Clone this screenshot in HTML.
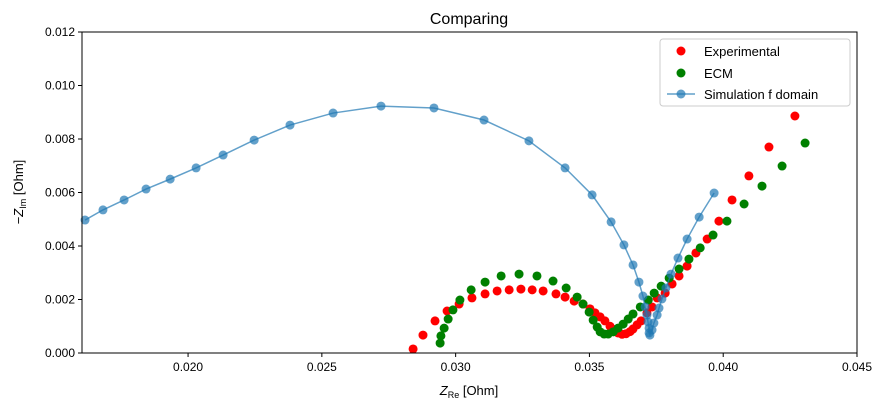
<!DOCTYPE html>
<html><head><meta charset="utf-8"><style>
body{margin:0;background:#fff}
svg{display:block;font-family:"Liberation Sans","DejaVu Sans",sans-serif}
</style></head><body>
<svg id="chart" width="886" height="409" viewBox="0 0 886 409">
<rect width="886" height="409" fill="#fff"/>
<text x="469" y="24" text-anchor="middle" font-size="16">Comparing</text>
<g id="grid"></g>
<g id="marks"></g>
<rect x="82" y="32" width="775" height="321" fill="none" stroke="#000" stroke-width="1"/>
<g id="xticks"></g><g id="yticks"></g>
<text x="469" y="395" text-anchor="middle" font-size="13"><tspan font-style="italic">Z</tspan><tspan font-size="9" dy="3">Re</tspan><tspan dy="-3"> [Ohm]</tspan></text>
<text transform="translate(23,192) rotate(-90)" text-anchor="middle" font-size="13">−<tspan font-style="italic">Z</tspan><tspan font-size="9" dy="3">Im</tspan><tspan dy="-3"> [Ohm]</tspan></text>
<g>
<rect x="660" y="39" width="190" height="67" rx="3" fill="#fff" fill-opacity="0.8" stroke="#ccc"/>
<circle cx="681" cy="51" r="4.5" fill="#ff0000"/>
<text x="704" y="56" font-size="13">Experimental</text>
<circle cx="681" cy="73" r="4.5" fill="#008000"/>
<text x="704" y="78" font-size="13">ECM</text>
<line x1="667" y1="94" x2="695" y2="94" stroke="#1f77b4" stroke-opacity="0.7" stroke-width="1.5"/>
<circle cx="681" cy="94" r="4.5" fill="#1f77b4" fill-opacity="0.7"/>
<text x="704" y="99" font-size="13">Simulation f domain</text>
</g>
</svg>
<script>
const xTickValues=[0.020,0.025,0.030,0.035,0.040,0.045];
const xTickLabels=["0.020","0.025","0.030","0.035","0.040","0.045"];
const yTickValues=[0,0.002,0.004,0.006,0.008,0.010,0.012];
const yTickLabels=["0.000","0.002","0.004","0.006","0.008","0.010","0.012"];
const expRe=[0.02841,0.02878,0.02923,0.02968,0.03013,0.03061,0.0311,0.03155,0.032,0.03244,0.03286,0.03327,0.03375,0.03409,0.03443,0.03476,0.03502,0.03521,0.0354,0.03558,0.03577,0.03592,0.03607,0.03622,0.03637,0.03652,0.03663,0.03678,0.03693,0.03715,0.03734,0.03753,0.03783,0.03809,0.03835,0.03865,0.03898,0.0394,0.03984,0.04033,0.04096,0.04171,0.04268];
const expIm=[0.00015,0.00067,0.0012,0.00157,0.00183,0.00206,0.00221,0.00232,0.00236,0.00239,0.00236,0.00232,0.00221,0.00209,0.00194,0.00183,0.00165,0.0015,0.00135,0.0012,0.001,0.00088,0.00075,0.0007,0.00072,0.0008,0.0009,0.00105,0.0012,0.0015,0.00172,0.00206,0.00224,0.00258,0.00288,0.00325,0.00374,0.00426,0.00493,0.00572,0.00662,0.0077,0.00886];
const ecmRe=[0.02942,0.02945,0.02957,0.02972,0.0299,0.03016,0.03058,0.0311,0.0317,0.03237,0.03304,0.03364,0.03413,0.03454,0.03476,0.03499,0.03514,0.03529,0.0354,0.03555,0.0357,0.03589,0.03607,0.03626,0.03645,0.03663,0.0369,0.0372,0.03742,0.03768,0.03798,0.03835,0.03872,0.03914,0.03962,0.04014,0.04078,0.04145,0.0422,0.04306];
const ecmIm=[0.00037,0.00064,0.00093,0.00127,0.00161,0.00198,0.00236,0.00265,0.00288,0.00295,0.00288,0.00269,0.00243,0.00209,0.00183,0.00153,0.00123,0.00097,0.00079,0.00071,0.00071,0.00079,0.00093,0.00108,0.00127,0.00146,0.00172,0.00198,0.00224,0.0025,0.0028,0.00314,0.00351,0.00393,0.00441,0.00493,0.00557,0.00624,0.00699,0.00785];
const simRe=[0.01615,0.01682,0.01761,0.01843,0.01933,0.0203,0.02131,0.02247,0.02381,0.02542,0.02721,0.02919,0.03106,0.03274,0.03409,0.0351,0.03581,0.03629,0.03663,0.03685,0.037,0.03708,0.03715,0.03719,0.03723,0.03723,0.03726,0.03734,0.03741,0.03753,0.0376,0.03771,0.03786,0.03805,0.03831,0.03865,0.0391,0.03966];
const simIm=[0.00497,0.00535,0.00572,0.00613,0.0065,0.00692,0.0074,0.00796,0.00852,0.00897,0.00923,0.00916,0.00871,0.00793,0.00692,0.00591,0.0049,0.00404,0.00329,0.00265,0.00213,0.00172,0.00142,0.00116,0.00093,0.00075,0.00067,0.00086,0.00112,0.00142,0.00168,0.00202,0.00243,0.00295,0.00355,0.00426,0.00508,0.00598];

const X0=82,X1=857,Y0=353,Y1=32,XMIN=0.016036,XMAX=0.045,YMIN=0,YMAX=0.012;
function xs(v){return X0+(v-XMIN)/(XMAX-XMIN)*(X1-X0);}
function ys(v){return Y0-(v-YMIN)/(YMAX-YMIN)*(Y0-Y1);}
const NS="http://www.w3.org/2000/svg";
function mk(tag,attrs,parent){const e=document.createElementNS(NS,tag);for(const k in attrs)e.setAttribute(k,attrs[k]);parent.appendChild(e);return e;}
const xt=document.getElementById('xticks'),yt=document.getElementById('yticks'),marks=document.getElementById('marks');
xTickValues.forEach((v,i)=>{const x=xs(v);
 const l=mk('line',{x1:x,x2:x,y1:Y0,y2:Y0+4,stroke:'#000'},xt);
 
 
 const t=mk('text',{x:x,y:Y0+18,'text-anchor':'middle','font-size':12},xt);t.textContent=xTickLabels[i];
 
 });
yTickValues.forEach((v,i)=>{const y=ys(v);
 const l=mk('line',{x1:X0-4,x2:X0,y1:y,y2:y,stroke:'#000'},yt);
 
 
 const t=mk('text',{x:X0-7,y:y+4,'text-anchor':'end','font-size':12},yt);t.textContent=yTickLabels[i];
 
 });
expRe.forEach((v,i)=>{const c=mk('circle',{cx:xs(v),cy:ys(expIm[i]),r:4.5,fill:'#ff0000'},marks);
 
 });
ecmRe.forEach((v,i)=>{const c=mk('circle',{cx:xs(v),cy:ys(ecmIm[i]),r:4.5,fill:'#008000'},marks);
 
 });
const pl=mk('polyline',{points:simRe.map((v,i)=>xs(v)+','+ys(simIm[i])).join(' '),fill:'none',stroke:'#1f77b4','stroke-opacity':0.7,'stroke-width':1.5},marks);


simRe.forEach((v,i)=>{const c=mk('circle',{cx:xs(v),cy:ys(simIm[i]),r:4.5,fill:'#1f77b4','fill-opacity':0.7},marks);
 
 });
</script>
</body></html>
